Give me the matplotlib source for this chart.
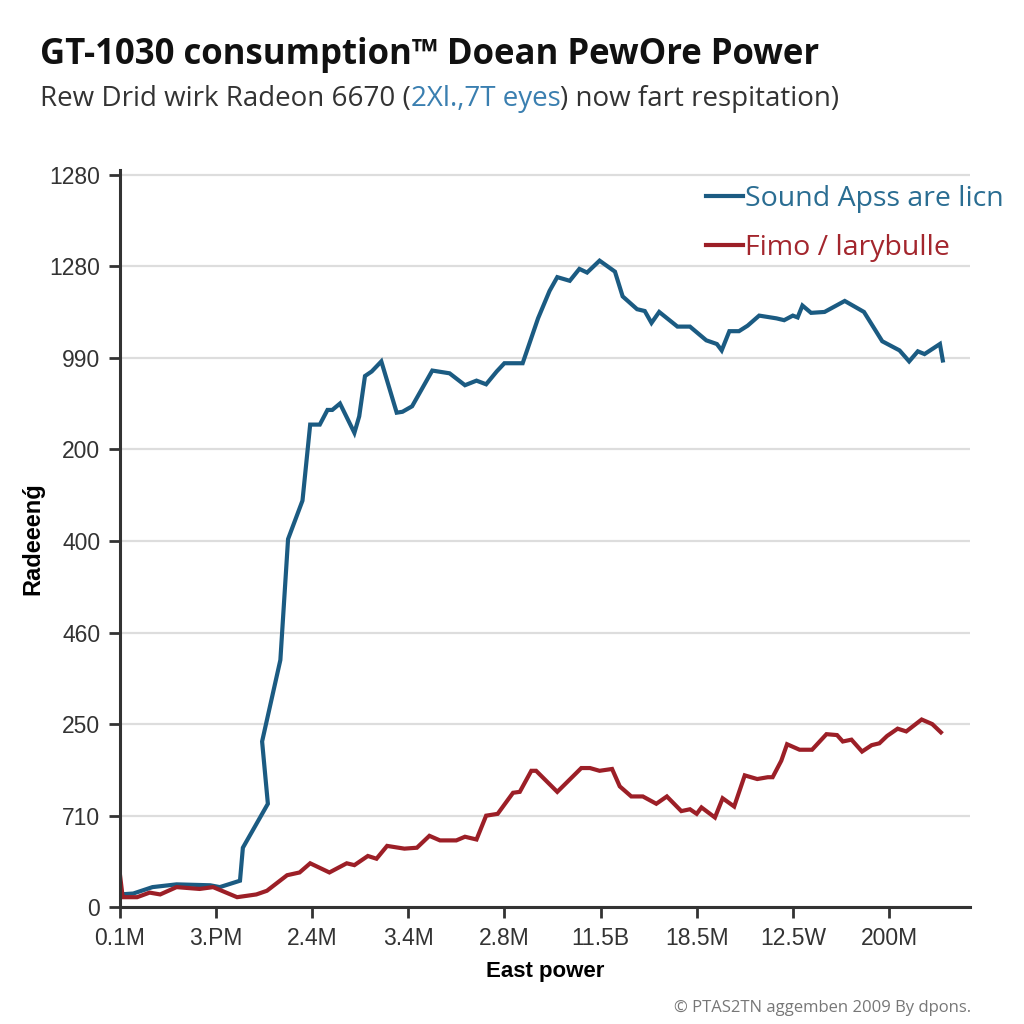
import numpy as np
import matplotlib
matplotlib.use("Agg")
import matplotlib.pyplot as plt

# Chart values (x and y in tick-slot units)
x_ticklabels = ["0.1M", "3.PM", "2.4M", "3.4M", "2.8M", "11.5B", "18.5M", "12.5W", "200M"]
y_ticklabels = ["0", "710", "250", "460", "400", "200", "990", "1280", "1280"]

blue_x = [0.00, 0.14, 0.34, 0.59, 0.94, 1.04, 1.25, 1.28, 1.54, 1.48, 1.67, 1.75, 1.90,
          1.98, 2.08, 2.16, 2.21, 2.29, 2.44, 2.49, 2.55, 2.62, 2.72, 2.88, 2.94, 3.04,
          3.25, 3.43, 3.59, 3.71, 3.81, 3.92, 4.00, 4.19, 4.35, 4.47, 4.55, 4.68, 4.78,
          4.86, 4.99, 5.15, 5.23, 5.38, 5.46, 5.53, 5.61, 5.80, 5.93, 6.10, 6.21, 6.26,
          6.34, 6.44, 6.53, 6.65, 6.83, 6.91, 7.00, 7.05, 7.10, 7.19, 7.33, 7.54, 7.74,
          7.93, 8.11, 8.21, 8.30, 8.37, 8.53, 8.56]
blue_y = [0.14, 0.15, 0.22, 0.25, 0.24, 0.22, 0.29, 0.65, 1.13, 1.81, 2.70, 4.02, 4.44,
          5.27, 5.27, 5.43, 5.43, 5.50, 5.18, 5.36, 5.80, 5.85, 5.96, 5.40, 5.41, 5.47,
          5.86, 5.83, 5.70, 5.75, 5.71, 5.85, 5.94, 5.94, 6.43, 6.73, 6.88, 6.84, 6.97,
          6.93, 7.06, 6.94, 6.67, 6.53, 6.51, 6.38, 6.50, 6.34, 6.34, 6.19, 6.15, 6.08,
          6.29, 6.29, 6.35, 6.46, 6.43, 6.41, 6.46, 6.44, 6.57, 6.49, 6.50, 6.62, 6.50,
          6.18, 6.08, 5.96, 6.07, 6.04, 6.15, 5.97]

red_x = [0.00, 0.03, 0.18, 0.31, 0.42, 0.59, 0.83, 0.97, 1.22, 1.42, 1.53, 1.74, 1.87,
         1.98, 2.18, 2.36, 2.44, 2.58, 2.67, 2.78, 2.96, 3.09, 3.22, 3.33, 3.50, 3.59,
         3.71, 3.81, 3.93, 4.09, 4.16, 4.28, 4.33, 4.55, 4.80, 4.89, 4.99, 5.12, 5.20,
         5.32, 5.44, 5.58, 5.69, 5.84, 5.93, 6.00, 6.05, 6.19, 6.27, 6.39, 6.50, 6.63,
         6.74, 6.79, 6.88, 6.94, 7.07, 7.20, 7.35, 7.46, 7.52, 7.61, 7.72, 7.82, 7.90,
         7.98, 8.09, 8.18, 8.34, 8.45, 8.54]
red_y = [0.37, 0.11, 0.11, 0.16, 0.14, 0.22, 0.20, 0.22, 0.11, 0.14, 0.18, 0.35, 0.38,
         0.48, 0.38, 0.48, 0.46, 0.56, 0.53, 0.67, 0.64, 0.65, 0.78, 0.73, 0.73, 0.77,
         0.74, 1.00, 1.02, 1.25, 1.26, 1.49, 1.49, 1.26, 1.52, 1.52, 1.49, 1.51, 1.32,
         1.21, 1.21, 1.13, 1.21, 1.05, 1.07, 1.02, 1.09, 0.98, 1.19, 1.10, 1.44, 1.40,
         1.42, 1.42, 1.60, 1.78, 1.72, 1.72, 1.89, 1.88, 1.81, 1.83, 1.70, 1.77, 1.79,
         1.87, 1.95, 1.92, 2.05, 2.00, 1.91]

blue_label = "Sound Apss are licn"
red_label = "Fimo / larybulle"

BLUE = "#1b5b82"
RED = "#9c1f27"
AXIS = "#333333"

fig = plt.figure(figsize=(10.24, 10.24), dpi=100)
ax = fig.add_axes([0.117, 0.114, 0.83, 0.72])

ax.plot(blue_x, blue_y, color=BLUE, lw=3, solid_joinstyle="miter", label=blue_label)
ax.plot(red_x, red_y, color=RED, lw=3, solid_joinstyle="miter", label=red_label)

ax.set_xlim(0, 8.84)
ax.set_ylim(0, 8.05)
ax.set_xticks(np.arange(len(x_ticklabels)))
ax.set_xticklabels(x_ticklabels, fontsize=16.5, color=AXIS, family="Liberation Sans")
ax.set_yticks(np.arange(len(y_ticklabels)))
ax.set_yticklabels(y_ticklabels, fontsize=16.5, color=AXIS, family="Liberation Sans")
ax.tick_params(axis="both", direction="out", length=8, width=2, color=AXIS, pad=6)

for s in ["top", "right"]:
    ax.spines[s].set_visible(False)
for s in ["left", "bottom"]:
    ax.spines[s].set_color(AXIS)
    ax.spines[s].set_linewidth(2.2)

ax.grid(axis="y", color="#dddddd", lw=1.6)
ax.set_axisbelow(True)

ax.set_xlabel("East power", fontsize=16, fontweight="bold", family="Liberation Sans", labelpad=8)
ax.set_ylabel("Radeeenǵ", fontsize=17, fontweight="bold", family="Liberation Sans", labelpad=4)

leg = ax.legend(loc="upper right", bbox_to_anchor=(1.07, 1.015), frameon=False,
                handlelength=1.3, handletextpad=0.05, labelspacing=0.75,
                prop={"family": "Open Sans", "size": 20.5})
for txt, c in zip(leg.get_texts(), ["#2a6d92", "#a3262d"]):
    txt.set_color(c)

# title and subtitle
fig.text(0.039, 0.946, "GT-1030 consumption\u2122 Doean PewOre Power", fontsize=25,
         fontweight="bold", family="Open Sans", va="center", color="#111111")

fig.canvas.draw()
renderer = fig.canvas.get_renderer()
parts = [("Rew Drid wirk Radeon 6670 (", "#333333"), ("2Xl.,7T eyes", "#3a7fb0"),
         (") now fart respitation)", "#333333")]
x = 0.039
for s, c in parts:
    t = fig.text(x, 0.903, s, fontsize=20, family="Open Sans", va="center", color=c)
    bb = t.get_window_extent(renderer)
    x += bb.width / fig.bbox.width

fig.text(0.948, 0.016, "\u00a9 PTAS2TN aggemben 2009 By dpons.", fontsize=12,
         family="Open Sans", ha="right", va="center", color="#777777")

fig.savefig("out.png", dpi=100)
